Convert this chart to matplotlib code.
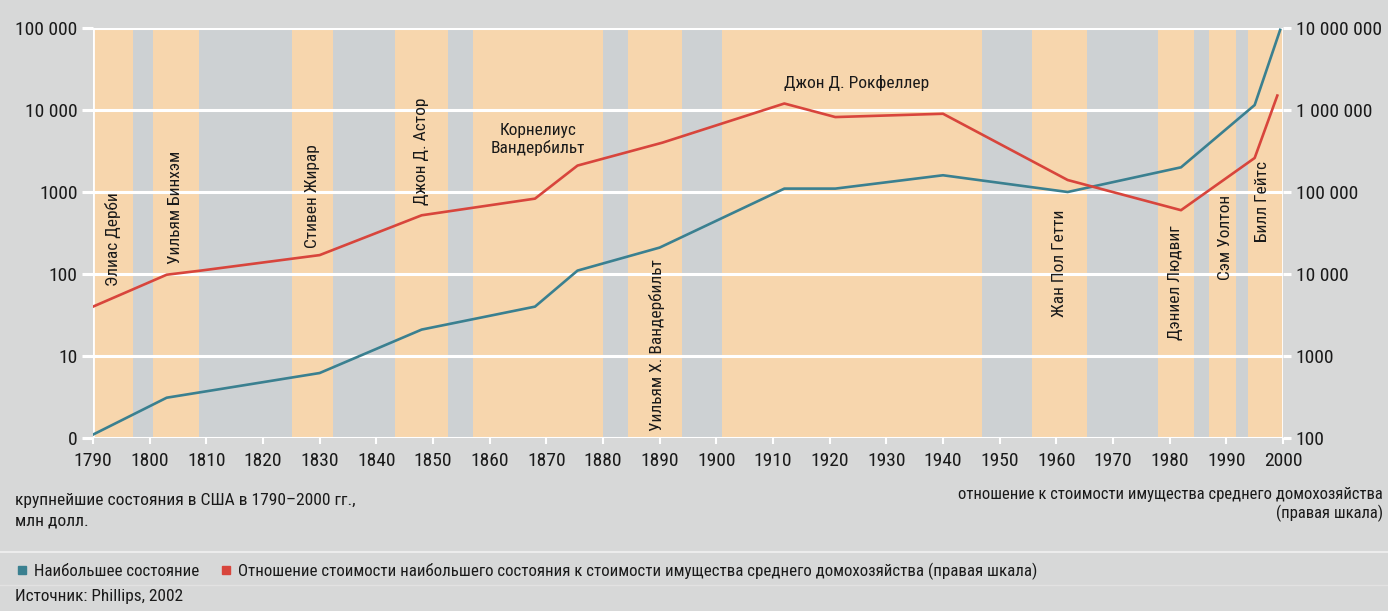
import matplotlib
matplotlib.use('Agg')
import matplotlib.pyplot as plt
import matplotlib.transforms as mtransforms
from matplotlib.lines import Line2D

plt.rcParams['font.family'] = ['Roboto Condensed', 'Fira Sans Condensed', 'PT Sans Narrow', 'DejaVu Sans']

# ---------------- data ----------------
# largest fortune, mln USD (left scale)
years_fortune = [1790, 1803, 1830, 1848, 1868, 1875.5, 1890, 1912, 1921, 1940, 1962, 1982, 1995, 1999.5]
fortune = [1.1, 3.1, 6.2, 21, 40, 110, 210, 1100, 1100, 1600, 1000, 2000, 11500, 95000]

# ratio to median household wealth (right scale)
years_ratio = [1790, 1803, 1809, 1830, 1848, 1868, 1875.5, 1890.5, 1912, 1921, 1940, 1962, 1982, 1995, 1999]
ratio = [4000, 9800, 11000, 17000, 52000, 83000, 210000, 400000, 1200000, 820000, 900000, 140000, 60000, 260000, 1500000]

# periods of the richest persons
names = ['Элиас Дерби', 'Уильям Бинхэм', 'Стивен Жирар', 'Джон Д. Астор', 'Корнелиус\nВандербильт',
         'Уильям Х. Вандербильт', 'Джон Д. Рокфеллер', 'Жан Пол Гетти', 'Дэниел Людвиг', 'Сэм Уолтон', 'Билл Гейтс']
period_start = [1790, 1800.6, 1825.1, 1843.3, 1857, 1884.4, 1901, 1955.7, 1977.9, 1987, 1993.8]
period_end = [1797, 1808.7, 1832.4, 1852.6, 1880, 1893.9, 1946.9, 1965.4, 1984.3, 1991.7, 2000]

left_ticks = [1, 10, 100, 1000, 10000, 100000]
left_labels = ['0', '10', '100', '1000', '10 000', '100 000']
right_ticks = [100, 1000, 10000, 100000, 1000000, 10000000]
right_labels = ['100', '1000', '10 000', '100 000', '1 000 000', '10 000 000']
x_ticks = list(range(1790, 2001, 10))

# label placement (x in years, y in axes fraction, rotation)
label_pos = [(1793.5, 0.485, 90), (1804.5, 0.563, 90), (1828.8, 0.59, 90), (1847.9, 0.70, 90),
             (1868.5, 0.727, 0), (1889.5, 0.227, 90), (1924.8, 0.866, 0), (1960.6, 0.427, 90),
             (1981.1, 0.38, 90), (1989.8, 0.49, 90), (1996.3, 0.578, 90)]

bg = '#d7d8d8'
plot_bg = '#cdd1d3'
band_color = '#f7d6ad'
blue = '#3a8090'
red = '#d8453c'
txt = '#1a1a1a'

fig = plt.figure(figsize=(13.88, 6.11), dpi=100, facecolor=bg)
ax = fig.add_axes([93 / 1388, 1 - 438 / 611, 1190 / 1388, 410 / 611])
ax.set_facecolor(plot_bg)

for s, e in zip(period_start, period_end):
    ax.axvspan(s, e, color=band_color, lw=0, zorder=0)

ax.set_yscale('log')
ax.set_ylim(1, 100000)
ax.set_xlim(1790, 2000)

for t in left_ticks:
    ax.axhline(t, color='white', lw=2.2, zorder=1)
ax.axvline(1790, color='white', lw=2, zorder=1)
ax.axvline(2000, color='white', lw=2, zorder=1)

ax.plot(years_fortune, fortune, color=blue, lw=1.9, zorder=3)

ax.set_yticks(left_ticks)
ax.set_yticklabels(left_labels)
ax.minorticks_off()
ax.set_xticks(x_ticks)
ax.set_xticklabels([str(x) for x in x_ticks])
ax.tick_params(axis='y', colors='white', length=8, width=2.2, labelcolor=txt, labelsize=14, pad=3)
ax.tick_params(axis='x', colors='white', length=4, width=1.5, labelcolor=txt, labelsize=14, pad=6)
for sp in ax.spines.values():
    sp.set_visible(False)

ax2 = ax.twinx()
ax2.set_yscale('log')
ax2.set_ylim(100, 10000000)
ax2.plot(years_ratio, ratio, color=red, lw=1.9, zorder=3)
ax2.set_yticks(right_ticks)
ax2.set_yticklabels(right_labels)
ax2.minorticks_off()
ax2.tick_params(axis='y', colors='white', length=6, width=2.2, labelcolor=txt, labelsize=14, pad=3)
for sp in ax2.spines.values():
    sp.set_visible(False)

trans = mtransforms.blended_transform_factory(ax.transData, ax.transAxes)
for name, (lx, ly, rot) in zip(names, label_pos):
    ax.text(lx, ly, name, transform=trans, rotation=rot, ha='center', va='center',
            fontsize=12.5, color=txt, linespacing=1.15, zorder=4)

# captions
fig.text(15 / 1388, 1 - 500 / 611, 'крупнейшие состояния в США в 1790–2000 гг.,', fontsize=12.6,
         color=txt, va='center')
fig.text(15 / 1388, 1 - 521 / 611, 'млн долл.', fontsize=12.6, color=txt, va='center')
fig.text(1383 / 1388, 1 - 494 / 611, 'отношение к стоимости имущества среднего домохозяйства',
         fontsize=12, color=txt, va='center', ha='right')
fig.text(1383 / 1388, 1 - 513 / 611, '(правая шкала)', fontsize=12, color=txt, va='center', ha='right')

# separators
fig.add_artist(Line2D([0, 1], [1 - 552 / 611] * 2, color='#ececec', lw=1.5))
fig.add_artist(Line2D([0, 1], [1 - 585 / 611] * 2, color='#e2e2e2', lw=1))

handles = [Line2D([], [], marker='s', ls='none', color=blue, markersize=5.5),
           Line2D([], [], marker='s', ls='none', color=red, markersize=5.5)]
fig.legend(handles, ['Наибольшее состояние',
                     'Отношение стоимости наибольшего состояния к стоимости имущества среднего домохозяйства (правая шкала)'],
           loc='center left', bbox_to_anchor=(-2 / 1388, 1 - 571 / 611), ncol=2, frameon=False,
           fontsize=12.2, handletextpad=0.2, columnspacing=1.1, handlelength=1.0, labelcolor=txt)

fig.text(15 / 1388, 1 - 597 / 611, 'Источник: Phillips, 2002', fontsize=12.4, color=txt, va='center')

fig.savefig('out.png', dpi=100, facecolor=bg)
